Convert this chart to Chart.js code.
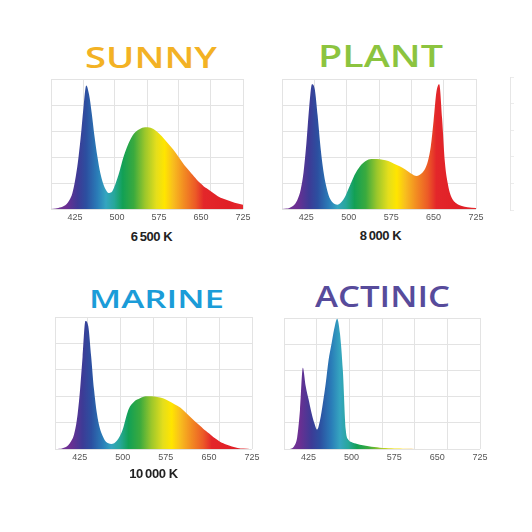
<!DOCTYPE html>
<html>
<head>
<meta charset="utf-8">
<script src="https://cdn.jsdelivr.net/npm/chart.js@4.4.1/dist/chart.umd.min.js"></script>
<style>
  html, body { margin: 0; padding: 0; background: #fff; }
  body { width: 532px; height: 532px; position: relative; overflow: hidden; font-family: "Liberation Sans", Arial, sans-serif; }
  .panel { position: absolute; }
  .title { position: absolute; white-space: nowrap; font-family: "Open Sans", "Liberation Sans", sans-serif; font-weight: 600; line-height: 1; transform-origin: left top; }
  .caption { position: absolute; white-space: nowrap; font-weight: bold; font-size: 13px; line-height: 1; color: #222; letter-spacing: -0.4px; }
</style>
</head>
<body>
<script>
// wavelength samples (nm), shared by the four spectra
const wavelengths = [380, 390, 395, 400, 405, 410, 415, 420, 425, 430,
  435, 440, 445, 450, 455, 460, 465, 470, 475, 480,
  485, 490, 495, 500, 505, 510, 520, 530, 540, 550,
  560, 570, 580, 590, 600, 610, 620, 630, 635, 640,
  645, 650, 655, 660, 665, 670, 675, 680, 690, 700,
  710, 725];

// relative intensity (%)
const sunny = [0, 0.5, 1, 1.5, 2.5, 4, 7, 12, 22, 36,
  55, 78, 95, 88, 73, 55, 40, 28, 20, 15,
  12.5, 13, 17, 23, 30, 38, 50, 58, 61.5, 63,
  62.5, 60, 56, 51, 46, 40, 34, 29, 26.5, 24,
  21.5, 19.5, 17.5, 16, 14.5, 13, 11.5, 10, 8, 6.5,
  5, 3.5];
const plant = [0, 0.5, 1, 2, 4, 8, 15, 28, 50, 78,
  96, 92, 72, 48, 30, 18, 10, 6, 4, 3.5,
  4.5, 7, 11, 16, 21, 26, 33, 37, 38.5, 38.5,
  38, 37, 35, 33, 30.5, 27.5, 25.5, 28, 31, 37,
  48, 68, 90, 96, 70, 36, 20, 11, 4.5, 2.5,
  1.5, 1];
const marine = [0, 0.3, 0.8, 1.5, 3, 6, 11, 22, 42, 70,
  97, 93, 70, 45, 27, 16, 10, 6, 4.5, 4,
  4.5, 6.5, 10, 15, 23, 30, 36, 38.5, 40, 40,
  39.5, 38.5, 36.5, 34, 31.5, 27.5, 23.5, 19.5, 17.5, 15.5,
  13.7, 12, 10.2, 8.5, 7, 5.5, 4.5, 3.5, 2, 1,
  0.5, 0];
const actinic = [0, 0, 0.5, 2.5, 9, 30, 62, 48, 38, 28,
  20, 15, 22, 35, 50, 68, 80, 92, 99.5, 88,
  60, 15, 7, 5.5, 4.5, 4, 3, 2.2, 1.6, 1.2,
  0.9, 0.7, 0.5, 0.4, 0.3, 0.2, 0.1, 0, 0, 0,
  0, 0, 0, 0, 0, 0, 0, 0, 0, 0,
  0, 0];

const xTicks = [425, 500, 575, 650, 725];
const xMin = 382;
const xMax = 725;
const gridDivisions = 6;

// colour of the light at each wavelength
const spectrumStops = [
  [380, '#7a3a9a'], [410, '#6a2f92'], [430, '#3d3b96'], [445, '#2c4fa0'],
  [465, '#2a7db8'], [480, '#35a5c0'], [495, '#27a79a'], [510, '#12a055'],
  [530, '#3aaa3e'], [550, '#9cc72b'], [570, '#e4de1c'], [585, '#ffe500'],
  [600, '#f8be1e'], [620, '#f28a22'], [640, '#ec5a27'], [655, '#e3262a'],
  [700, '#e01f26'], [725, '#e52a2e']
];

const GRID = '#e3e3e3';
const PAD = { left: 4, right: 14, top: 2, bottom: 2 };
const AXIS_H = 14;

function spectrumFill(ctx) {
  const chart = ctx.chart;
  if (!chart.chartArea) return 'transparent';
  const xs = chart.scales.x;
  const w0 = spectrumStops[0][0];
  const w1 = spectrumStops[spectrumStops.length - 1][0];
  const g = chart.ctx.createLinearGradient(xs.getPixelForValue(w0), 0, xs.getPixelForValue(w1), 0);
  spectrumStops.forEach(([w, c]) => g.addColorStop((w - w0) / (w1 - w0), c));
  return g;
}

const panels = [
  { values: sunny, title: 'SUNNY', color: '#f3b224', capH: 21, titleW: 132, titleX: 150.5, titleTop: 47.3,
    caption: '6\u202F500 K', captionX: 151.5, captionTop: 231.5, plot: { l: 51, t: 79, w: 192, h: 130 } },
  { values: plant, title: 'PLANT', color: '#8cc43f', capH: 22, titleW: 125, titleX: 380.5, titleTop: 45,
    caption: '8\u202F000 K', captionX: 380.5, captionTop: 231, plot: { l: 282, t: 79, w: 194, h: 130 } },
  { values: marine, title: 'MARINE', color: '#1b9cd8', capH: 17.5, titleW: 135, titleX: 156.5, titleTop: 290.5,
    caption: '10\u202F000 K', captionX: 153.5, captionTop: 469, plot: { l: 55, t: 317, w: 197, h: 132 } },
  { values: actinic, title: 'ACTINIC', color: '#574b9b', capH: 21, titleW: 135, titleX: 382.5, titleTop: 286,
    caption: null, plot: { l: 284, t: 318, w: 196, h: 131 } }
];

function addTitle(p) {
  const el = document.createElement('div');
  el.className = 'title';
  el.textContent = p.title;
  const fs = p.capH / 0.714;
  el.style.fontSize = fs + 'px';
  el.style.color = p.color;
  document.body.appendChild(el);
  const w = el.getBoundingClientRect().width;
  el.style.transform = 'scaleX(' + (p.titleW / w) + ')';
  el.style.left = (p.titleX - p.titleW / 2) + 'px';
  el.style.top = (p.titleTop - 0.15 * fs) + 'px';
}

function addCaption(p) {
  if (!p.caption) return;
  const el = document.createElement('div');
  el.className = 'caption';
  el.textContent = p.caption;
  document.body.appendChild(el);
  const w = el.getBoundingClientRect().width;
  el.style.left = (p.captionX - w / 2) + 'px';
  el.style.top = (p.captionTop - 1.7) + 'px';
}

function addChart(p) {
  const wrap = document.createElement('div');
  wrap.className = 'panel';
  const canvas = document.createElement('canvas');
  const cw = p.plot.w + PAD.left + PAD.right;
  const ch = p.plot.h + PAD.top + PAD.bottom + AXIS_H;
  canvas.width = cw;
  canvas.height = ch;
  canvas.style.width = cw + 'px';
  canvas.style.height = ch + 'px';
  wrap.appendChild(canvas);
  document.body.appendChild(wrap);

  const chart = new Chart(canvas, {
    type: 'line',
    data: {
      datasets: [{
        data: wavelengths.map((w, i) => ({ x: w, y: p.values[i] })),
        fill: 'origin',
        backgroundColor: spectrumFill,
        borderColor: 'rgba(0,0,0,0)',
        borderWidth: 0,
        pointRadius: 0,
        cubicInterpolationMode: 'monotone'
      }]
    },
    options: {
      responsive: false,
      maintainAspectRatio: false,
      animation: false,
      events: [],
      layout: { padding: PAD },
      plugins: { legend: { display: false }, tooltip: { enabled: false } },
      scales: {
        x: {
          type: 'linear', min: xMin, max: xMax,
          afterBuildTicks: s => { s.ticks = xTicks.map(v => ({ value: v })); },
          grid: { display: false, drawTicks: false },
          border: { display: false },
          ticks: {
            autoSkip: false, maxRotation: 0, padding: 3, color: '#555',
            font: { family: '"Liberation Sans Narrow", "Liberation Sans", sans-serif', size: 9 }
          }
        },
        xg: {
          type: 'linear', position: 'bottom', min: xMin, max: xMax,
          afterBuildTicks: s => {
            const step = (xMax - xMin) / gridDivisions;
            s.ticks = Array.from({ length: gridDivisions + 1 }, (_, i) => ({ value: xMin + i * step }));
          },
          grid: { color: GRID, drawTicks: false },
          border: { display: false },
          ticks: { display: false }
        },
        y: {
          min: 0, max: 100,
          ticks: { display: false, stepSize: 20 },
          grid: { color: GRID, drawTicks: false },
          border: { display: false }
        }
      }
    }
  });
  // nudge the canvas so the plot area has the reference's height
  const dh = p.plot.h - chart.chartArea.height;
  if (Math.abs(dh) > 0.3) chart.resize(cw, Math.round(ch + dh));
  wrap.style.left = (p.plot.l - chart.chartArea.left) + 'px';
  wrap.style.top = (p.plot.t - chart.chartArea.top) + 'px';
}

panels.forEach(p => { addTitle(p); addChart(p); addCaption(p); });

// edge of a fifth chart, cut off by the right side of the picture
(function () {
  const wrap = document.createElement('div');
  wrap.className = 'panel';
  const canvas = document.createElement('canvas');
  canvas.width = 6; canvas.height = 135;
  canvas.style.width = '6px'; canvas.style.height = '135px';
  wrap.appendChild(canvas);
  document.body.appendChild(wrap);
  const chart = new Chart(canvas, {
    type: 'line',
    data: { datasets: [{ data: [] }] },
    options: {
      responsive: false, maintainAspectRatio: false, animation: false, events: [],
      layout: { padding: 1 },
      plugins: { legend: { display: false }, tooltip: { enabled: false } },
      scales: {
        x: { type: 'linear', min: xMin, max: xMax, display: false },
        y: {
          min: 0, max: 100,
          ticks: { display: false, stepSize: 20 },
          grid: { color: '#ececec', drawTicks: false },
          border: { display: true, color: '#e6e6e6' }
        }
      }
    }
  });
  wrap.style.left = (510 - chart.chartArea.left) + 'px';
  wrap.style.top = (77 - chart.chartArea.top) + 'px';
})();
</script>
</body>
</html>
